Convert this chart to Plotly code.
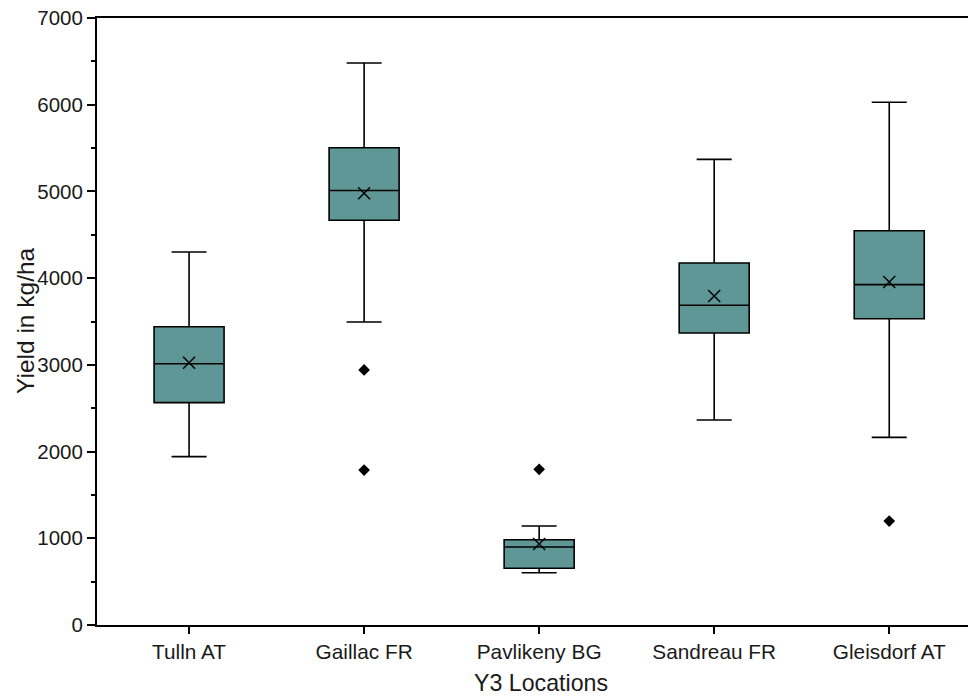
import plotly.graph_objects as go

locations = ["Tulln AT", "Gaillac FR", "Pavlikeny BG", "Sandreau FR", "Gleisdorf AT"]
q1 = [2565, 4668, 655, 3367, 3532]
median = [3012, 5010, 900, 3687, 3925]
q3 = [3440, 5503, 983, 4175, 4547]
lower = [1942, 3494, 603, 2364, 2164]
upper = [4301, 6481, 1142, 5370, 6028]
means = [3025, 4980, 934, 3794, 3955]
outlier_loc = ["Gaillac FR", "Gaillac FR", "Pavlikeny BG", "Gleisdorf AT"]
outlier_val = [2941, 1787, 1795, 1199]

FONT = "Liberation Sans, Arial, sans-serif"
FILL = "rgb(95,151,150)"

fig = go.Figure()
fig.add_trace(go.Box(
    x=locations, q1=q1, median=median, q3=q3,
    lowerfence=lower, upperfence=upper,
    fillcolor=FILL, line=dict(color="black", width=1.6),
    width=0.4, whiskerwidth=0.5, boxpoints=False, showlegend=False,
))
fig.add_trace(go.Scatter(
    x=locations, y=means, mode="markers",
    marker=dict(symbol="x-thin", size=12, line=dict(color="black", width=1.5)),
    showlegend=False,
))
fig.add_trace(go.Scatter(
    x=outlier_loc, y=outlier_val, mode="markers",
    marker=dict(symbol="diamond", size=9, color="black"),
    showlegend=False,
))

fig.update_layout(
    width=968, height=697,
    margin=dict(l=97, r=0, t=18, b=72),
    paper_bgcolor="white", plot_bgcolor="white",
    font=dict(family=FONT, size=20, color="#1a1a1a"),
    xaxis=dict(
        type="category", range=[-0.526, 4.45],
        showline=True, linecolor="black", linewidth=2, mirror=True,
        ticks="outside", ticklen=7, tickwidth=1.5, tickcolor="black",
        showgrid=False, zeroline=False,
        tickfont=dict(size=20.8),
    ),
    yaxis=dict(
        range=[0, 7000], dtick=1000, tick0=0,
        showline=True, linecolor="black", linewidth=2,
        ticks="outside", ticklen=8, tickwidth=1.5, tickcolor="black",
        minor=dict(dtick=500, ticks="outside", ticklen=4, tickwidth=1.5, tickcolor="black", showgrid=False),
        showgrid=False, zeroline=False,
        tickfont=dict(size=20.5),
    ),
    annotations=[
        dict(text="Y3 Locations", xref="paper", yref="paper", x=(541-97)/871, y=-(683-625)/607,
             showarrow=False, font=dict(size=23.2), xanchor="center", yanchor="middle"),
        dict(text="Yield in kg/ha", xref="paper", yref="paper", x=-(97-25)/871, y=(625-321)/607,
             showarrow=False, font=dict(size=24.5), textangle=-90, xanchor="center", yanchor="middle"),
    ],
)

fig.write_html("out.html")
